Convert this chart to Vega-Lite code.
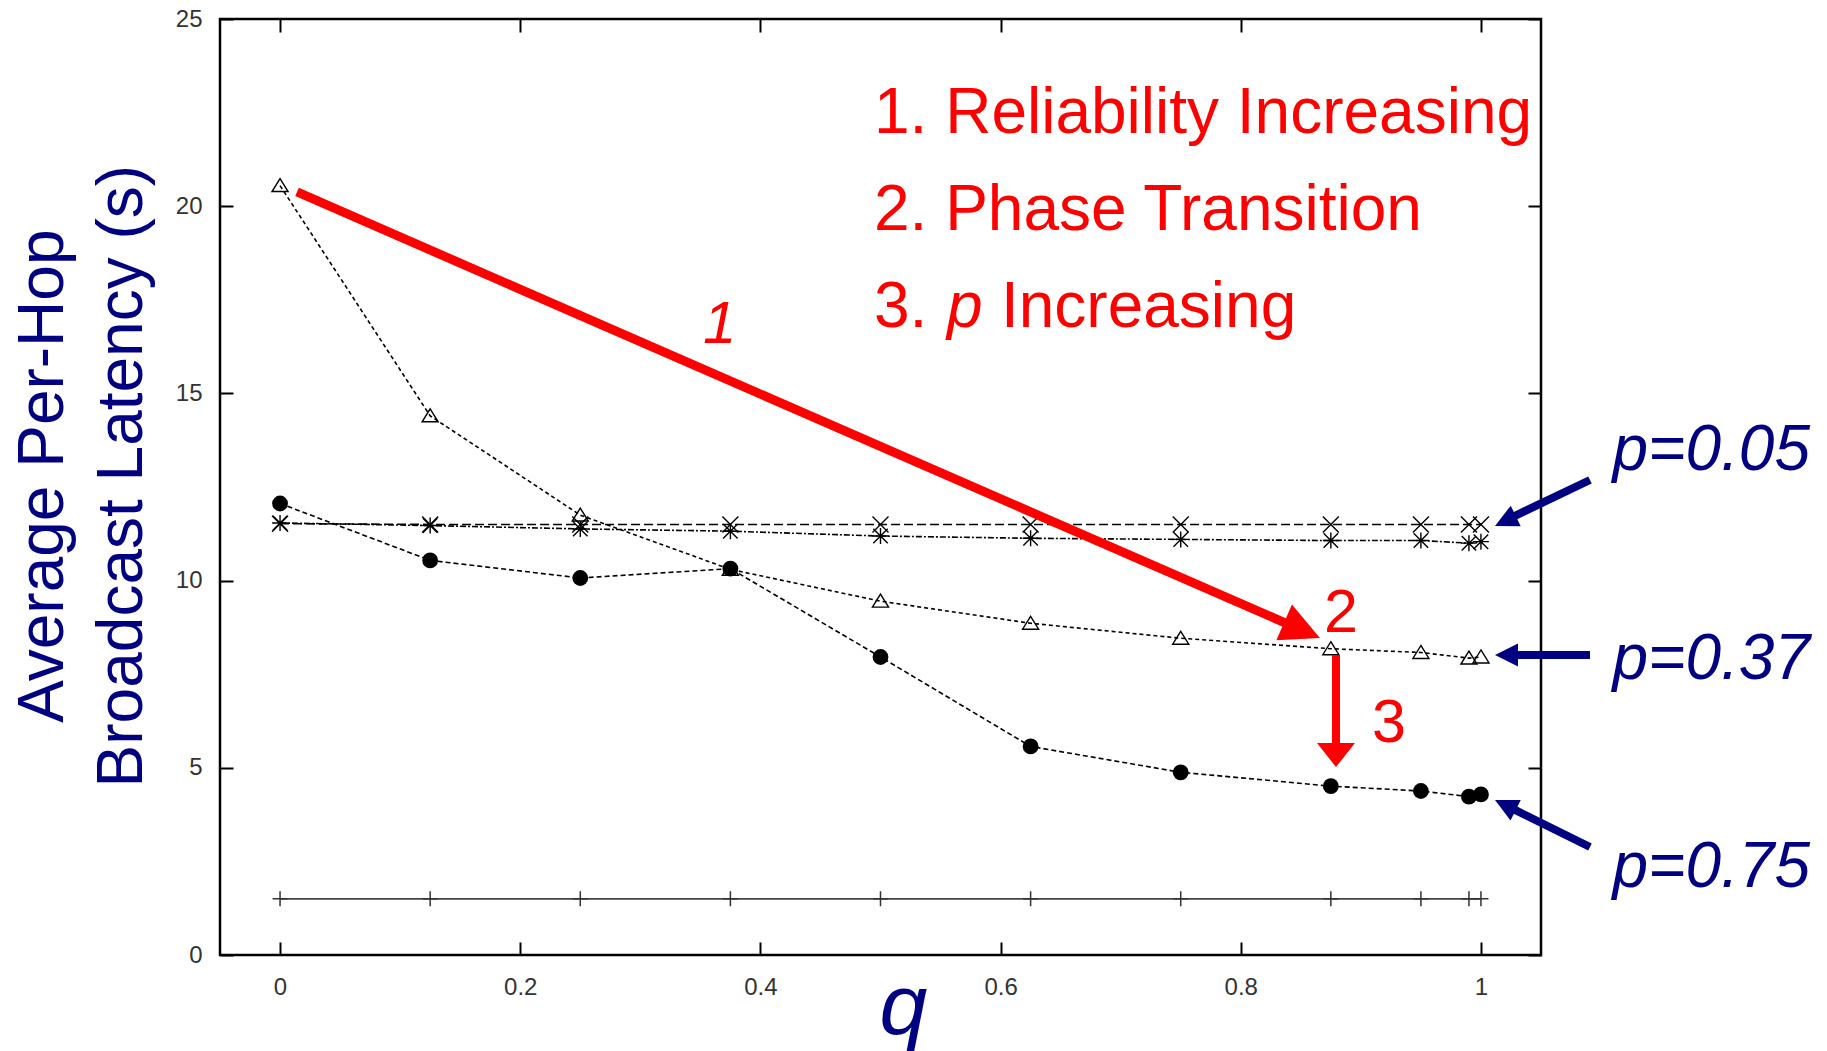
{
  "$schema": "https://vega.github.io/schema/vega-lite/v6.json",
  "width": 1321,
  "height": 936,
  "autosize": {"type": "none"},
  "padding": {"left": 220, "top": 19, "right": 286, "bottom": 96},
  "background": "white",
  "config": {
    "view": {"stroke": "black", "strokeWidth": 2.5},
    "axis": {"domain": false, "grid": false, "ticks": true, "tickColor": "black", "tickWidth": 2, "tickSize": -13, "labelFont": "Liberation Sans", "labelFontSize": 24, "labelColor": "#333"}
  },
  "resolve": {"axis": {"x": "independent", "y": "independent"}},
  "datasets": {
    "plus": [
      {"q": 0, "latency": 1.5}, {"q": 0.125, "latency": 1.5}, {"q": 0.25, "latency": 1.5}, {"q": 0.375, "latency": 1.5},
      {"q": 0.5, "latency": 1.5}, {"q": 0.625, "latency": 1.5}, {"q": 0.75, "latency": 1.5}, {"q": 0.875, "latency": 1.5},
      {"q": 0.95, "latency": 1.5}, {"q": 0.99, "latency": 1.5}, {"q": 1.0, "latency": 1.5}
    ],
    "cross": [
      {"q": 0, "latency": 11.52}, {"q": 0.125, "latency": 11.5}, {"q": 0.25, "latency": 11.5}, {"q": 0.375, "latency": 11.5},
      {"q": 0.5, "latency": 11.5}, {"q": 0.625, "latency": 11.5}, {"q": 0.75, "latency": 11.5}, {"q": 0.875, "latency": 11.5},
      {"q": 0.95, "latency": 11.5}, {"q": 0.99, "latency": 11.5}, {"q": 1.0, "latency": 11.5}
    ],
    "star": [
      {"q": 0, "latency": 11.54}, {"q": 0.125, "latency": 11.47}, {"q": 0.25, "latency": 11.38}, {"q": 0.375, "latency": 11.32},
      {"q": 0.5, "latency": 11.19}, {"q": 0.625, "latency": 11.13}, {"q": 0.75, "latency": 11.1}, {"q": 0.875, "latency": 11.07},
      {"q": 0.95, "latency": 11.07}, {"q": 0.99, "latency": 11.0}, {"q": 1.0, "latency": 11.04}
    ],
    "tri": [
      {"q": 0, "latency": 20.55}, {"q": 0.125, "latency": 14.4}, {"q": 0.25, "latency": 11.75}, {"q": 0.375, "latency": 10.3},
      {"q": 0.5, "latency": 9.45}, {"q": 0.625, "latency": 8.86}, {"q": 0.75, "latency": 8.46}, {"q": 0.875, "latency": 8.18},
      {"q": 0.95, "latency": 8.08}, {"q": 0.99, "latency": 7.93}, {"q": 1.0, "latency": 7.96}
    ],
    "dot": [
      {"q": 0, "latency": 12.06}, {"q": 0.125, "latency": 10.54}, {"q": 0.25, "latency": 10.07}, {"q": 0.375, "latency": 10.32},
      {"q": 0.5, "latency": 7.96}, {"q": 0.625, "latency": 5.57}, {"q": 0.75, "latency": 4.88}, {"q": 0.875, "latency": 4.51},
      {"q": 0.95, "latency": 4.38}, {"q": 0.99, "latency": 4.23}, {"q": 1.0, "latency": 4.29}
    ]
  },
  "layer": [
    {
      "data": {"name": "plus"},
      "mark": {"type": "line", "color": "#444444", "strokeWidth": 1.6},
      "encoding": {
        "x": {"field": "q", "type": "quantitative", "scale": {"domain": [-0.05, 1.05], "nice": false, "zero": false},
              "axis": {"orient": "bottom", "values": [0, 0.2, 0.4, 0.6, 0.8, 1], "format": "~g", "labelPadding": 33, "title": null}},
        "y": {"field": "latency", "type": "quantitative", "scale": {"domain": [0, 25], "nice": false, "zero": false},
              "axis": {"orient": "left", "values": [0, 5, 10, 15, 20, 25], "labelPadding": 31, "title": null}}
      }
    },
    {
      "data": {"name": "plus"},
      "mark": {"type": "point", "shape": "M-1,0L1,0M0,-1L0,1", "size": 225, "filled": false, "stroke": "#333333", "strokeWidth": 1.5, "opacity": 1},
      "encoding": {
        "x": {"field": "q", "type": "quantitative", "scale": {"domain": [-0.05, 1.05], "nice": false, "zero": false},
              "axis": {"orient": "top", "values": [0, 0.2, 0.4, 0.6, 0.8, 1], "labels": false, "title": null}},
        "y": {"field": "latency", "type": "quantitative", "scale": {"domain": [0, 25], "nice": false, "zero": false},
              "axis": {"orient": "right", "values": [0, 5, 10, 15, 20, 25], "labels": false, "title": null}}
      }
    },
    {
      "data": {"name": "cross"},
      "mark": {"type": "line", "color": "black", "strokeWidth": 1.6, "strokeDash": [9, 4]},
      "encoding": {
        "x": {"field": "q", "type": "quantitative", "scale": {"domain": [-0.05, 1.05], "nice": false, "zero": false}, "axis": null},
        "y": {"field": "latency", "type": "quantitative", "scale": {"domain": [0, 25], "nice": false, "zero": false}, "axis": null}
      }
    },
    {
      "data": {"name": "cross"},
      "mark": {"type": "point", "shape": "M-1,-1L1,1M-1,1L1,-1", "size": 256, "filled": false, "stroke": "black", "strokeWidth": 1.4, "opacity": 1},
      "encoding": {
        "x": {"field": "q", "type": "quantitative", "scale": {"domain": [-0.05, 1.05], "nice": false, "zero": false}, "axis": null},
        "y": {"field": "latency", "type": "quantitative", "scale": {"domain": [0, 25], "nice": false, "zero": false}, "axis": null}
      }
    },
    {
      "data": {"name": "star"},
      "mark": {"type": "line", "color": "black", "strokeWidth": 1.6, "strokeDash": [6, 2, 2, 2]},
      "encoding": {
        "x": {"field": "q", "type": "quantitative", "scale": {"domain": [-0.05, 1.05], "nice": false, "zero": false}, "axis": null},
        "y": {"field": "latency", "type": "quantitative", "scale": {"domain": [0, 25], "nice": false, "zero": false}, "axis": null}
      }
    },
    {
      "data": {"name": "star"},
      "mark": {"type": "point", "shape": "M-1,-1L1,1M-1,1L1,-1M0,-1.1L0,1.1M-1.1,0L1.1,0", "size": 210, "filled": false, "stroke": "black", "strokeWidth": 1.4, "opacity": 1},
      "encoding": {
        "x": {"field": "q", "type": "quantitative", "scale": {"domain": [-0.05, 1.05], "nice": false, "zero": false}, "axis": null},
        "y": {"field": "latency", "type": "quantitative", "scale": {"domain": [0, 25], "nice": false, "zero": false}, "axis": null}
      }
    },
    {
      "data": {"name": "tri"},
      "mark": {"type": "line", "color": "black", "strokeWidth": 1.6, "strokeDash": [4, 3]},
      "encoding": {
        "x": {"field": "q", "type": "quantitative", "scale": {"domain": [-0.05, 1.05], "nice": false, "zero": false}, "axis": null},
        "y": {"field": "latency", "type": "quantitative", "scale": {"domain": [0, 25], "nice": false, "zero": false}, "axis": null}
      }
    },
    {
      "data": {"name": "tri"},
      "mark": {"type": "point", "shape": "M0,-1L1.15,0.85L-1.15,0.85Z", "size": 196, "filled": false, "stroke": "black", "strokeWidth": 1.4, "opacity": 1},
      "encoding": {
        "x": {"field": "q", "type": "quantitative", "scale": {"domain": [-0.05, 1.05], "nice": false, "zero": false}, "axis": null},
        "y": {"field": "latency", "type": "quantitative", "scale": {"domain": [0, 25], "nice": false, "zero": false}, "axis": null}
      }
    },
    {
      "data": {"name": "dot"},
      "mark": {"type": "line", "color": "black", "strokeWidth": 1.6, "strokeDash": [5, 3]},
      "encoding": {
        "x": {"field": "q", "type": "quantitative", "scale": {"domain": [-0.05, 1.05], "nice": false, "zero": false}, "axis": null},
        "y": {"field": "latency", "type": "quantitative", "scale": {"domain": [0, 25], "nice": false, "zero": false}, "axis": null}
      }
    },
    {
      "data": {"name": "dot"},
      "mark": {"type": "point", "shape": "circle", "size": 250, "filled": true, "color": "black", "opacity": 1},
      "encoding": {
        "x": {"field": "q", "type": "quantitative", "scale": {"domain": [-0.05, 1.05], "nice": false, "zero": false}, "axis": null},
        "y": {"field": "latency", "type": "quantitative", "scale": {"domain": [0, 25], "nice": false, "zero": false}, "axis": null}
      }
    },
    {
      "data": {"values": [
        {"q": 0.01415, "latency": 20.38, "q2": 0.8392, "latency2": 8.84}
      ]},
      "mark": {"type": "rule", "color": "#ff0000", "strokeWidth": 9, "strokeCap": "butt"},
      "encoding": {
        "x": {"field": "q", "type": "quantitative", "scale": {"domain": [-0.05, 1.05], "nice": false, "zero": false}, "axis": null},
        "y": {"field": "latency", "type": "quantitative", "scale": {"domain": [0, 25], "nice": false, "zero": false}, "axis": null},
        "x2": {"field": "q2"},
        "y2": {"field": "latency2"}
      }
    },
    {
      "data": {"values": [
        {"q": 0.8793, "latency": 8.01, "q2": 0.8793, "latency2": 5.53}
      ]},
      "mark": {"type": "rule", "color": "#ff0000", "strokeWidth": 8, "strokeCap": "butt"},
      "encoding": {
        "x": {"field": "q", "type": "quantitative", "scale": {"domain": [-0.05, 1.05], "nice": false, "zero": false}, "axis": null},
        "y": {"field": "latency", "type": "quantitative", "scale": {"domain": [0, 25], "nice": false, "zero": false}, "axis": null},
        "x2": {"field": "q2"},
        "y2": {"field": "latency2"}
      }
    },
    {
      "data": {"values": [{"q": 0.8659, "latency": 8.467}]},
      "mark": {"type": "point", "shape": "M0,0L-1,-0.5L-1,0.5Z", "size": 6084, "angle": 23.56, "filled": true, "color": "#ff0000", "strokeWidth": 0, "opacity": 1},
      "encoding": {
        "x": {"field": "q", "type": "quantitative", "scale": {"domain": [-0.05, 1.05], "nice": false, "zero": false}, "axis": null},
        "y": {"field": "latency", "type": "quantitative", "scale": {"domain": [0, 25], "nice": false, "zero": false}, "axis": null}
      }
    },
    {
      "data": {"values": [{"q": 0.8793, "latency": 5.02}]},
      "mark": {"type": "point", "shape": "M0,0L-0.63,-0.5L-0.63,0.5Z", "size": 5776, "angle": 90, "filled": true, "color": "#ff0000", "strokeWidth": 0, "opacity": 1},
      "encoding": {
        "x": {"field": "q", "type": "quantitative", "scale": {"domain": [-0.05, 1.05], "nice": false, "zero": false}, "axis": null},
        "y": {"field": "latency", "type": "quantitative", "scale": {"domain": [0, 25], "nice": false, "zero": false}, "axis": null}
      }
    },
    {
      "data": {"values": [
        {"q": 1.0908, "latency": 12.687, "q2": 1.0262, "latency2": 11.698},
        {"q": 1.0908, "latency": 8.013, "q2": 1.0283, "latency2": 8.013},
        {"q": 1.0908, "latency": 2.885, "q2": 1.0266, "latency2": 3.902}
      ]},
      "mark": {"type": "rule", "color": "#000080", "strokeWidth": 8, "strokeCap": "butt"},
      "encoding": {
        "x": {"field": "q", "type": "quantitative", "scale": {"domain": [-0.05, 1.05], "nice": false, "zero": false}, "axis": null},
        "y": {"field": "latency", "type": "quantitative", "scale": {"domain": [0, 25], "nice": false, "zero": false}, "axis": null},
        "x2": {"field": "q2"},
        "y2": {"field": "latency2"}
      }
    },
    {
      "data": {"values": [{"q": 1.0117, "latency": 11.458}]},
      "mark": {"type": "point", "shape": "M0,0L-1,-0.5L-1,0.5Z", "size": 2116, "angle": 154.2, "filled": true, "color": "#000080", "strokeWidth": 0, "opacity": 1},
      "encoding": {
        "x": {"field": "q", "type": "quantitative", "scale": {"domain": [-0.05, 1.05], "nice": false, "zero": false}, "axis": null},
        "y": {"field": "latency", "type": "quantitative", "scale": {"domain": [0, 25], "nice": false, "zero": false}, "axis": null}
      }
    },
    {
      "data": {"values": [{"q": 1.0117, "latency": 8.013}]},
      "mark": {"type": "point", "shape": "M0,0L-1,-0.5L-1,0.5Z", "size": 2116, "angle": 180, "filled": true, "color": "#000080", "strokeWidth": 0, "opacity": 1},
      "encoding": {
        "x": {"field": "q", "type": "quantitative", "scale": {"domain": [-0.05, 1.05], "nice": false, "zero": false}, "axis": null},
        "y": {"field": "latency", "type": "quantitative", "scale": {"domain": [0, 25], "nice": false, "zero": false}, "axis": null}
      }
    },
    {
      "data": {"values": [{"q": 1.0117, "latency": 4.14}]},
      "mark": {"type": "point", "shape": "M0,0L-1,-0.5L-1,0.5Z", "size": 2116, "angle": 206.3, "filled": true, "color": "#000080", "strokeWidth": 0, "opacity": 1},
      "encoding": {
        "x": {"field": "q", "type": "quantitative", "scale": {"domain": [-0.05, 1.05], "nice": false, "zero": false}, "axis": null},
        "y": {"field": "latency", "type": "quantitative", "scale": {"domain": [0, 25], "nice": false, "zero": false}, "axis": null}
      }
    },
    {
      "data": {"values": [
        {"q": 0.4946, "latency": 21.96, "label": "1. Reliability Increasing"},
        {"q": 0.4946, "latency": 19.37, "label": "2. Phase Transition"},
        {"q": 0.4946, "latency": 16.78, "label": "3. "},
        {"q": 0.6003, "latency": 16.78, "label": "Increasing"}
      ]},
      "mark": {"type": "text", "font": "Liberation Sans", "fontSize": 64, "color": "#ff0000", "align": "left", "baseline": "alphabetic"},
      "encoding": {
        "x": {"field": "q", "type": "quantitative", "scale": {"domain": [-0.05, 1.05], "nice": false, "zero": false}, "axis": null},
        "y": {"field": "latency", "type": "quantitative", "scale": {"domain": [0, 25], "nice": false, "zero": false}, "axis": null},
        "text": {"field": "label"}
      }
    },
    {
      "data": {"values": [
        {"q": 0.5554, "latency": 16.78, "label": "p"}
      ]},
      "mark": {"type": "text", "font": "Liberation Sans", "fontSize": 64, "fontStyle": "italic", "color": "#ff0000", "align": "left", "baseline": "alphabetic"},
      "encoding": {
        "x": {"field": "q", "type": "quantitative", "scale": {"domain": [-0.05, 1.05], "nice": false, "zero": false}, "axis": null},
        "y": {"field": "latency", "type": "quantitative", "scale": {"domain": [0, 25], "nice": false, "zero": false}, "axis": null},
        "text": {"field": "label"}
      }
    },
    {
      "data": {"values": [
        {"q": 0.366, "latency": 16.35, "label": "1"}
      ]},
      "mark": {"type": "text", "font": "Liberation Sans", "fontSize": 60, "fontStyle": "italic", "color": "#ff0000", "align": "center", "baseline": "alphabetic"},
      "encoding": {
        "x": {"field": "q", "type": "quantitative", "scale": {"domain": [-0.05, 1.05], "nice": false, "zero": false}, "axis": null},
        "y": {"field": "latency", "type": "quantitative", "scale": {"domain": [0, 25], "nice": false, "zero": false}, "axis": null},
        "text": {"field": "label"}
      }
    },
    {
      "data": {"values": [
        {"q": 0.8834, "latency": 8.63, "label": "2"},
        {"q": 0.9234, "latency": 5.69, "label": "3"}
      ]},
      "mark": {"type": "text", "font": "Liberation Sans", "fontSize": 61, "color": "#ff0000", "align": "center", "baseline": "alphabetic"},
      "encoding": {
        "x": {"field": "q", "type": "quantitative", "scale": {"domain": [-0.05, 1.05], "nice": false, "zero": false}, "axis": null},
        "y": {"field": "latency", "type": "quantitative", "scale": {"domain": [0, 25], "nice": false, "zero": false}, "axis": null},
        "text": {"field": "label"}
      }
    },
    {
      "data": {"values": [
        {"q": 1.1095, "latency": 12.95, "label": "p=0.05"},
        {"q": 1.1095, "latency": 7.37, "label": "p=0.37"},
        {"q": 1.1095, "latency": 1.82, "label": "p=0.75"}
      ]},
      "mark": {"type": "text", "font": "Liberation Sans", "fontSize": 64, "fontStyle": "italic", "color": "#000080", "align": "left", "baseline": "alphabetic"},
      "encoding": {
        "x": {"field": "q", "type": "quantitative", "scale": {"domain": [-0.05, 1.05], "nice": false, "zero": false}, "axis": null},
        "y": {"field": "latency", "type": "quantitative", "scale": {"domain": [0, 25], "nice": false, "zero": false}, "axis": null},
        "text": {"field": "label"}
      }
    },
    {
      "data": {"values": [
        {"q": -0.1807, "latency": 12.79, "label": "Average Per-Hop"},
        {"q": -0.1149, "latency": 12.79, "label": "Broadcast Latency (s)"}
      ]},
      "mark": {"type": "text", "font": "Liberation Sans", "fontSize": 64, "angle": 270, "color": "#000080", "align": "center", "baseline": "alphabetic"},
      "encoding": {
        "x": {"field": "q", "type": "quantitative", "scale": {"domain": [-0.05, 1.05], "nice": false, "zero": false}, "axis": null},
        "y": {"field": "latency", "type": "quantitative", "scale": {"domain": [0, 25], "nice": false, "zero": false}, "axis": null},
        "text": {"field": "label"}
      }
    },
    {
      "data": {"values": [
        {"q": 0.519, "latency": -2.1, "label": "q"}
      ]},
      "mark": {"type": "text", "font": "Liberation Sans", "fontSize": 86, "fontStyle": "italic", "color": "#000080", "align": "center", "baseline": "alphabetic"},
      "encoding": {
        "x": {"field": "q", "type": "quantitative", "scale": {"domain": [-0.05, 1.05], "nice": false, "zero": false}, "axis": null},
        "y": {"field": "latency", "type": "quantitative", "scale": {"domain": [0, 25], "nice": false, "zero": false}, "axis": null},
        "text": {"field": "label"}
      }
    }
  ]
}
